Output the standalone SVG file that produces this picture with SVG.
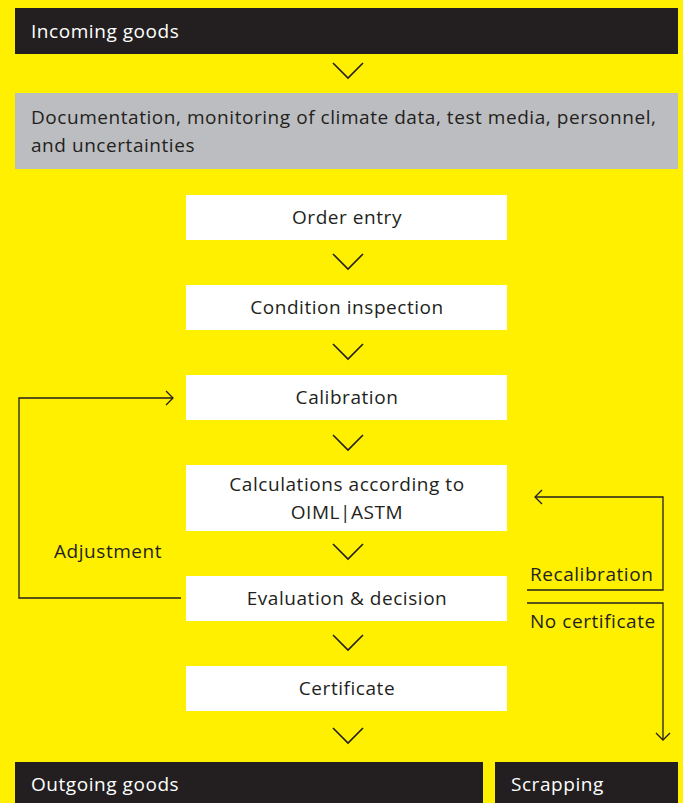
<svg xmlns="http://www.w3.org/2000/svg" width="683" height="803" viewBox="0 0 683 803">
<style>
.t{font-family:"Open Sans","Noto Sans","Liberation Sans",sans-serif;font-size:19px;font-weight:400;letter-spacing:0.55px;fill:#231f20}
.w{fill:#ffffff}
.c{fill:none;stroke:#231f20;stroke-width:1.6}
.l{fill:none;stroke:#231f20;stroke-width:1.3}
</style>
<defs>
<path id="chev" d="M-15,-8 L0,7 L15,-8" class="c"/>
</defs>
<rect x="0" y="0" width="683" height="803" fill="#fff000"/>
<g id="incoming"><rect x="15" y="8" width="663" height="46" fill="#231f20"/><text class="t w" x="31" y="38">Incoming goods</text></g>
<g id="documentation"><rect x="15" y="93" width="663" height="76" fill="#bcbdc0"/><text class="t" x="31" y="124">Documentation, monitoring of climate data, test media, personnel,</text><text class="t" x="31" y="152">and uncertainties</text></g>
<g id="order"><rect x="186" y="195" width="321" height="45" fill="#fff"/><text class="t" x="347" y="224" text-anchor="middle">Order entry</text></g>
<g id="condition"><rect x="186" y="285" width="321" height="45" fill="#fff"/><text class="t" x="347" y="314" text-anchor="middle">Condition inspection</text></g>
<g id="calibration"><rect x="186" y="375" width="321" height="45" fill="#fff"/><text class="t" x="347" y="404" text-anchor="middle">Calibration</text></g>
<g id="calculations"><rect x="186" y="465" width="321" height="66" fill="#fff"/><text class="t" x="347" y="491" text-anchor="middle">Calculations according to</text><text class="t" x="347" y="519" text-anchor="middle">OIML|ASTM</text></g>
<g id="evaluation"><rect x="186" y="576" width="321" height="45" fill="#fff"/><text class="t" x="347" y="605" text-anchor="middle">Evaluation &amp; decision</text></g>
<g id="certificate"><rect x="186" y="666" width="321" height="45" fill="#fff"/><text class="t" x="347" y="695" text-anchor="middle">Certificate</text></g>
<g id="outgoing"><rect x="15" y="762" width="468" height="41" fill="#231f20"/><text class="t w" x="31" y="791">Outgoing goods</text></g>
<g id="scrapping"><rect x="495" y="762" width="183" height="41" fill="#231f20"/><text class="t w" x="511" y="791">Scrapping</text></g>
<g id="connectors">
<use href="#chev" x="348" y="71"/>
<use href="#chev" x="348" y="262"/>
<use href="#chev" x="348" y="352"/>
<use href="#chev" x="348" y="443"/>
<use href="#chev" x="348" y="552"/>
<use href="#chev" x="348" y="643"/>
<use href="#chev" x="348" y="736"/>
<path class="l" d="M181,598 H19 V398 H173"/>
<path class="l" d="M166,391 L173,398 L166,405"/>
<path class="l" d="M527,590 H663 V497 H535"/>
<path class="l" d="M542,490 L535,497 L542,504"/>
<path class="l" d="M527,603 H663 V740"/>
<path class="l" d="M656,733 L663,740 L670,733"/>
<text class="t" x="54" y="558">Adjustment</text>
<text class="t" x="530" y="581">Recalibration</text>
<text class="t" x="530" y="628">No certificate</text>
</g>
</svg>
